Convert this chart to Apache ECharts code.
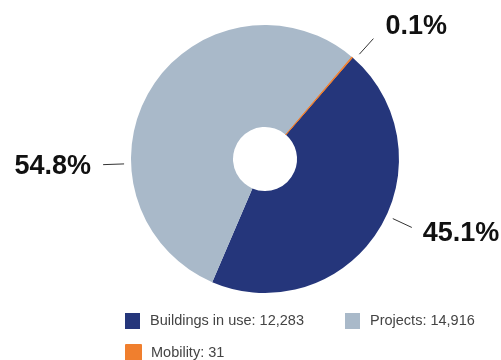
<!DOCTYPE html>
<html>
<head>
<meta charset="utf-8">
<script src="https://cdn.jsdelivr.net/npm/echarts@6/dist/echarts.min.js"></script>
<style>
  html, body { margin: 0; padding: 0; background: #fff; }
  #chart { width: 501px; height: 360px; }
</style>
</head>
<body>
<div id="chart"></div>
<script>
// Portfolio split by category
var categories = ['Buildings in use', 'Projects', 'Mobility'];
var counts = [12283, 14916, 31];
var percentLabels = ['45.1%', '54.8%', '0.1%'];
var colors = ['#25367b', '#a9b9c9', '#f07f2e'];

// Callout placement: direction (degrees clockwise from 12 o'clock) and text distance
var labelAngles = [115, 268, 42];
var labelDist = [174, 174, 180];
var CX = 265, CY = 159, R_IN = 32, R_OUT = 134;
var LINE_R1 = 141, LINE_R2 = 162;

var chart = echarts.init(document.getElementById('chart'), null, { renderer: 'canvas' });

function fmt(n) {
  return n.toString().replace(/\B(?=(\d{3})+(?!\d))/g, ',');
}

var seriesData = categories.map(function (name, i) {
  return {
    name: name,
    value: counts[i],
    itemStyle: { color: colors[i], borderColor: colors[i], borderWidth: i === 2 ? 1 : 0 }
  };
});

var legendPos = [
  { left: 125, top: 313 },
  { left: 345, top: 313 },
  { left: 125, top: 344 }
];

var legends = categories.map(function (name, i) {
  return {
    data: [name],
    left: legendPos[i].left,
    top: legendPos[i].top,
    padding: 0,
    orient: 'horizontal',
    icon: 'rect',
    itemWidth: 15,
    itemHeight: 16,
    selectedMode: false,
    formatter: function (n) {
      return n + ': ' + fmt(counts[categories.indexOf(n)]);
    },
    textStyle: {
      fontFamily: 'Liberation Sans, Arial, sans-serif',
      fontSize: 14.5,
      color: '#444',
      padding: [4, 0, 0, 5]
    }
  };
});

chart.setOption({
  animation: false,
  backgroundColor: '#ffffff',
  legend: legends,
  series: [{
    type: 'pie',
    center: [CX, CY],
    radius: [R_IN, R_OUT],
    startAngle: 49.2,
    clockwise: true,
    avoidLabelOverlap: false,
    data: seriesData,
    label: {
      show: true,
      position: 'outside',
      formatter: function (p) { return percentLabels[p.dataIndex]; },
      fontFamily: 'Liberation Sans, Arial, sans-serif',
      fontWeight: 'bold',
      fontSize: 27,
      color: '#111'
    },
    labelLine: {
      show: true,
      length: 20,
      length2: 0,
      lineStyle: { color: '#333', width: 1 }
    },
    labelLayout: function (p) {
      var i = p.dataIndex;
      var a = labelAngles[i] * Math.PI / 180;
      var sx = Math.sin(a), sy = -Math.cos(a);
      var onRight = sx >= 0;
      var d = labelDist[i];
      return {
        x: CX + sx * d,
        y: CY + sy * d + 1,
        align: onRight ? 'left' : 'right',
        verticalAlign: 'middle',
        labelLinePoints: [
          [CX + sx * LINE_R1, CY + sy * LINE_R1],
          [CX + sx * LINE_R2, CY + sy * LINE_R2],
          [CX + sx * LINE_R2, CY + sy * LINE_R2]
        ]
      };
    },
    emphasis: { disabled: true }
  }]
});
</script>
</body>
</html>
